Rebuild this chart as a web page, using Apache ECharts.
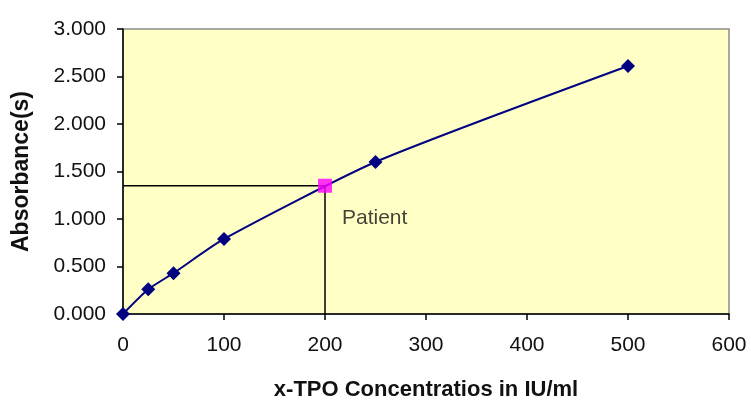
<!DOCTYPE html>
<html>
<head>
<meta charset="utf-8">
<script src="https://cdn.jsdelivr.net/npm/echarts@6/dist/echarts.min.js"></script>
<style>html,body{margin:0;padding:0;background:#fff;overflow:hidden}#c{width:751px;height:401px}</style>
</head>
<body>
<div id="c"></div>
<script>
var concentrations = [0, 25, 50, 100, 250, 500];
var absorbances = [0.00, 0.26, 0.43, 0.79, 1.60, 2.61];
var patientConc = 200;
var patientAbs = 1.35;
var xTicks = { min: 0, max: 600, interval: 100 };
var yTicks = { min: 0, max: 3, interval: 0.5 };

var chart = echarts.init(document.getElementById('c'), null, { renderer: 'canvas' });
var font = 'Liberation Sans, Arial, sans-serif';
var curve = concentrations.map(function (x, i) { return [x, absorbances[i]]; });
chart.setOption({
  animation: false,
  grid: { left: 123, right: 22, top: 29, bottom: 87, outerBoundsMode: 'none', containLabel: false,
    show: true, backgroundColor: '#FFFFC6', borderColor: '#8c8c8c', borderWidth: 1.5 },
  xAxis: {
    type: 'value', min: xTicks.min, max: xTicks.max, interval: xTicks.interval,
    name: 'x-TPO Concentratios in IU/ml', nameLocation: 'middle', nameGap: 65,
    nameTextStyle: { fontFamily: font, fontSize: 22, fontWeight: 'bold', color: '#111' },
    axisLine: { show: true, onZero: false, lineStyle: { color: '#000', width: 1.5 } },
    axisTick: { show: true, length: 6, lineStyle: { color: '#000', width: 1.5 } },
    axisLabel: { fontFamily: font, fontSize: 21, color: '#111', margin: 21 },
    splitLine: { show: false }
  },
  yAxis: {
    type: 'value', min: yTicks.min, max: yTicks.max, interval: yTicks.interval,
    name: 'Absorbance(s)', nameLocation: 'middle', nameGap: 90,
    nameTextStyle: { fontFamily: font, fontSize: 23, fontWeight: 'bold', color: '#111' },
    axisLine: { show: true, onZero: false, lineStyle: { color: '#000', width: 1.5 } },
    axisTick: { show: true, length: 6, lineStyle: { color: '#000', width: 1.5 } },
    axisLabel: { fontFamily: font, fontSize: 21, color: '#111', margin: 17, formatter: function (v) { return v.toFixed(3); } },
    splitLine: { show: false }
  },
  series: [
    {
      type: 'line', data: [[xTicks.min, patientAbs], [patientConc, patientAbs], [patientConc, yTicks.min]],
      symbol: 'none', lineStyle: { color: '#000', width: 1.5 }, z: 2
    },
    {
      type: 'line', data: curve, smooth: 0.2, symbol: 'diamond', symbolSize: 14,
      itemStyle: { color: '#000080' }, lineStyle: { color: '#000080', width: 2 }, z: 3
    },
    {
      type: 'scatter', data: [[patientConc, patientAbs]], symbol: 'rect', symbolSize: 14,
      itemStyle: { color: '#FF00FF' }, z: 4,
      label: { show: true, formatter: 'Patient', position: [24, 29], align: 'left', verticalAlign: 'top',
        fontFamily: font, fontSize: 21, color: '#111' }
    }
  ]
});
</script>
</body>
</html>
